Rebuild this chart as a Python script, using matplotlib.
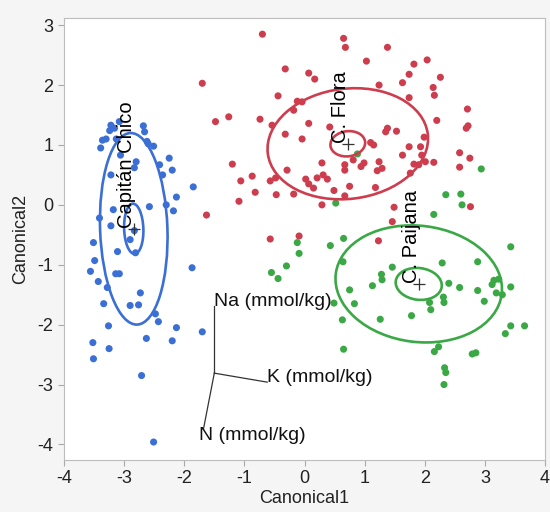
import matplotlib
matplotlib.use("Agg")
import matplotlib.pyplot as plt
from matplotlib.patches import Ellipse

# ── Canonical scores per group ───────────────────────────────────────
chico_x = [-3.22, -3.08, -3.24, -3.16, -2.68, -2.66, -3.36, -3.30, -3.39, -3.13,
           -2.62, -2.51, -2.60, -3.06, -2.80, -2.83, -2.25, -2.41, -2.20, -2.36,
           -3.22, -1.85, -2.13, -2.30, -2.18, -2.58, -3.18, -3.41, -3.22, -2.83,
           -2.90, -3.51, -3.11, -2.81, -3.49, -3.56, -3.43, -3.14, -3.08, -3.28,
           -2.73, -3.34, -2.90, -2.76, -1.87, -2.48, -2.43, -3.26, -2.13, -1.70,
           -3.52, -2.63, -2.20, -3.25, -3.51, -2.71, -2.51]
chico_y = [1.33, 1.39, 1.24, 1.28, 1.32, 1.22, 1.08, 1.10, 0.95, 1.10,
           1.06, 0.98, 1.02, 0.83, 0.72, 0.62, 0.78, 0.67, 0.58, 0.50,
           0.50, 0.30, 0.13, 0.00, -0.10, -0.03, -0.08, -0.22, -0.35, -0.43,
           -0.58, -0.63, -0.78, -0.80, -0.93, -1.11, -1.28, -1.15, -1.15, -1.38,
           -1.47, -1.65, -1.68, -1.67, -1.05, -1.82, -1.95, -2.02, -2.05, -2.12,
           -2.30, -2.23, -2.27, -2.40, -2.57, -2.85, -3.96]

flora_x = [-0.70, 0.65, 0.68, 1.03, -1.70, -0.32, 0.07, 0.17, -0.44, -0.12,
           -0.04, -0.18, -1.48, -1.26, -0.74, -0.54, 0.07, 0.42, -0.32, -0.04,
           -1.20, -0.29, 0.29, 0.67, 0.67, 0.81, 0.99, 0.94, -0.87, -1.06,
           -0.57, -0.48, 0.02, 0.07, 0.21, 0.31, 0.38, 0.15, 0.49, 0.75,
           -0.82, -0.47, -0.18, -1.09, 0.29, 0.67, 1.38, 1.82, 2.04, 1.74,
           2.26, 1.63, 1.24, 2.14, 2.16, 1.74, 2.71, 2.20, 2.72, 2.69,
           1.38, 1.35, 1.53, 1.99, 1.10, 1.15, 1.74, 1.93, 1.63, 1.95,
           2.58, 2.75, 2.58, 1.24, 1.21, 1.29, 1.82, 1.90, 2.01, 2.15,
           1.76, 1.18, 1.49, 2.76, 1.46, -0.57, -0.09, 1.23, -1.63]
flora_y = [2.85, 2.78, 2.63, 2.40, 2.03, 2.27, 2.20, 2.10, 1.82, 1.73,
           1.72, 1.58, 1.39, 1.47, 1.43, 1.33, 1.36, 1.30, 1.18, 1.10,
           0.68, 0.58, 0.70, 0.67, 0.58, 0.75, 0.70, 0.64, 0.48, 0.40,
           0.40, 0.45, 0.43, 0.35, 0.45, 0.50, 0.43, 0.28, 0.24, 0.31,
           0.21, 0.17, 0.18, 0.06, 0.00, 0.15, 2.63, 2.35, 2.42, 2.18,
           2.13, 2.04, 2.00, 1.96, 1.83, 1.79, 1.60, 1.41, 1.32, 1.28,
           1.28, 1.22, 1.23, 1.13, 1.04, 1.00, 0.97, 0.97, 0.83, 0.83,
           0.87, 0.78, 0.63, 0.72, 0.57, 0.61, 0.68, 0.67, 0.72, 0.71,
           0.53, 0.29, -0.04, -0.03, -0.28, -0.57, -0.52, -0.60, -0.17]

paijana_x = [0.88, 0.52, 2.94, 2.35, 2.60, 2.62, 2.15, -0.12, -0.09, 0.43,
             0.65, 0.64, -0.30, -0.55, -0.44, 0.75, 1.13, 1.28, 1.29, 1.46,
             0.49, 0.83, 0.63, 1.26, 0.65, 3.43, 2.29, 2.88, 2.40, 2.58,
             2.88, 2.99, 3.15, 3.23, 3.12, 3.43, 3.19, 3.29, 2.08, 2.31,
             2.32, 2.10, 1.78, 3.43, 3.66, 3.34, 2.23, 2.16, 2.79, 2.85,
             2.33, 2.35, 2.32]
paijana_y = [0.85, 0.03, 0.60, 0.17, 0.18, 0.00, -0.16, -0.63, -0.81, -0.68,
             -0.56, -0.95, -1.02, -1.13, -1.23, -1.42, -1.35, -1.16, -1.25, -1.04,
             -1.64, -1.65, -1.92, -1.91, -2.41, -0.70, -0.97, -0.95, -1.31, -1.38,
             -1.43, -1.61, -1.26, -1.24, -1.33, -1.37, -1.47, -1.50, -1.63, -1.54,
             -1.63, -1.75, -1.85, -2.02, -2.02, -2.15, -2.37, -2.45, -2.49, -2.47,
             -2.72, -2.80, -3.00]

groups = ["Capitán Chico", "C. Flora", "C. Paijana"]
colors = ["#3b6fd6", "#cd3d4e", "#3aa845"]

# group means and ellipses (center, outer w/h, inner w/h, angle)
centers = [(-2.84, -0.40), (0.72, 1.02), (1.90, -1.32)]
outer_wh = [(1.12, 3.20), (2.68, 1.84), (2.78, 1.94)]
inner_wh = [(0.32, 0.84), (0.58, 0.42), (0.77, 0.53)]
angles = [2, 7, -7]

# biplot rays
ray_origin = (-1.50, -2.81)
ray_names = ["Na (mmol/kg)", "K (mmol/kg)", "N (mmol/kg)"]
ray_ends = [(-1.50, -1.69), (-0.62, -2.96), (-1.68, -3.74)]
ray_label_pos = [(-1.50, -1.69), (-0.62, -2.95), (-1.75, -3.93)]

plt.rcParams["font.family"] = ["Liberation Sans", "DejaVu Sans"]
plt.rcParams["axes.unicode_minus"] = False

fig = plt.figure(figsize=(5.5, 5.12), dpi=100)
fig.patch.set_facecolor("#f5f5f5")
ax = fig.add_axes([64 / 550, 1 - 460 / 512, 481 / 550, 442 / 512])
ax.set_facecolor("white")

for xs, ys, c in zip([chico_x, flora_x, paijana_x],
                     [chico_y, flora_y, paijana_y], colors):
    ax.scatter(xs, ys, s=26, color=c, edgecolors="none", zorder=3)

for name, c, (cx, cy), (ow, oh), (iw, ih), ang in zip(
        groups, colors, centers, outer_wh, inner_wh, angles):
    ax.add_patch(Ellipse((cx, cy), ow, oh, angle=ang, fill=False,
                         edgecolor=c, lw=1.9, zorder=4))
    ax.add_patch(Ellipse((cx, cy), iw, ih, angle=ang, fill=False,
                         edgecolor=c, lw=1.9, zorder=4))
    ax.plot(cx, cy, marker="+", color="#333333", ms=8, mew=0.9, zorder=5)
    ax.text(cx - 0.12, cy + 0.02, name, rotation=90, ha="center", va="bottom",
            fontsize=14.5, color="black", zorder=6)

for (ex, ey), name, (lx, ly) in zip(ray_ends, ray_names, ray_label_pos):
    ax.plot([ray_origin[0], ex], [ray_origin[1], ey], color="#333333",
            lw=0.9, zorder=2)
    ax.text(lx, ly, name, ha="left", va="baseline", fontsize=14,
            color="#111111", zorder=6)

ax.set_xlim(-4, 4)
ax.set_ylim(-4.26, 3.12)
ax.set_xticks(range(-4, 5))
ax.set_yticks(range(-4, 4))
ax.tick_params(labelsize=13, color="#aaaaaa", length=4, labelcolor="#222222")
for sp in ax.spines.values():
    sp.set_color("#bdbdbd")
ax.set_xlabel("Canonical1", fontsize=13, color="#222222", labelpad=2)
ax.set_ylabel("Canonical2", fontsize=13, color="#222222", labelpad=6)

fig.savefig("out.png", dpi=100, facecolor=fig.get_facecolor())
